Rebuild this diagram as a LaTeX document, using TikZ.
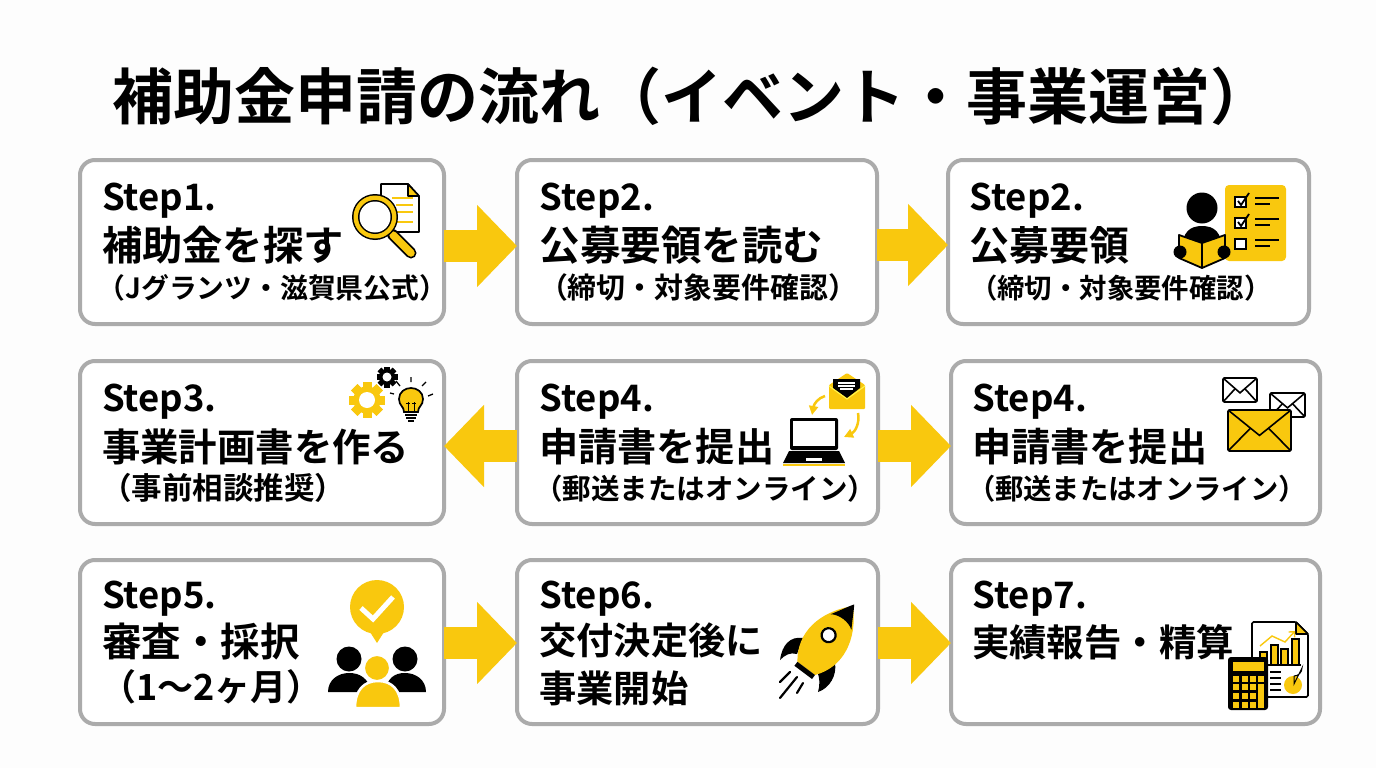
\documentclass[tikz,border=0pt]{standalone}
\usepackage{fontspec}
\setmainfont{Noto Sans CJK JP}[BoldFont={Noto Sans CJK JP Bold}]
\usetikzlibrary{arrows.meta}
\definecolor{ky}{HTML}{F9C80E}
\definecolor{bd}{HTML}{ABABAB}
\definecolor{bgc}{HTML}{FDFDFD}
\newcommand{\fs}[1]{\fontsize{#1}{#1}\selectfont\bfseries}
\newcommand{\gearicon}[4]{% x y r hole
  \foreach \a in {0,45,...,315}{\fill[#4,rotate around={\a:(#1)}] ($(#1)+(-0.25*#2,-#2)$) rectangle ($(#1)+(0.25*#2,#2)$);}
  \fill[#4] (#1) circle (0.76*#2);
  \fill[white] (#1) circle (#3);}
\usetikzlibrary{calc}
\newcommand{\envicon}[5]{% x1 y1 x2 y2 fill
  \draw[black,line width=1.6,fill=#5,rounded corners=1.5] (#1,#2) rectangle (#3,#4);
  \draw[black,line width=1.6] (#1,#2) -- ({(#1+#3)/2},{#2+0.62*(#4-#2)}) -- (#3,#2);
  \draw[black,line width=1.6] (#1,#4) -- ({#1+0.36*(#3-#1)},{#2+0.44*(#4-#2)});
  \draw[black,line width=1.6] (#3,#4) -- ({#3-0.36*(#3-#1)},{#2+0.44*(#4-#2)});}
\tikzset{
  card/.style={draw=bd,line width=4,fill=white,rounded corners=15,inner sep=0,outer sep=0},
  txt/.style={anchor=base west,inner sep=0,outer sep=0,text=black},
  flow/.style={draw=ky,line width=32,-{Triangle[length=40pt,width=80pt,fill=ky]}},
  ink/.style={black,line width=1.6,line cap=round},
}
\begin{document}
\begin{tikzpicture}[x=1pt,y=-1pt]
\useasboundingbox (0,0) rectangle (1376,768);
\fill[bgc] (0,0) rectangle (1376,768);
% title
\node[txt] (title) at (112,119) {\fs{61}補助金申請の流れ（イベント・事業運営）};
% cards
\node[card,minimum width=364,minimum height=164] (b1) at (262,242) {};
\node[card,minimum width=360,minimum height=164] (b2) at (697,242) {};
\node[card,minimum width=361,minimum height=164] (b3) at (1128.5,242) {};
\node[card,minimum width=364,minimum height=163] (b4) at (262,442.5) {};
\node[card,minimum width=361,minimum height=163] (b5) at (697.5,442.5) {};
\node[card,minimum width=369,minimum height=163] (b6) at (1135.5,442.5) {};
\node[card,minimum width=364,minimum height=164] (b7) at (262,642) {};
\node[card,minimum width=361,minimum height=164] (b8) at (697.5,642) {};
\node[card,minimum width=369,minimum height=164] (b9) at (1135.5,642) {};
% arrows
\draw[flow] ([yshift=-4pt]b1.east) -- ([yshift=-4pt]b2.west);
\draw[flow] ([yshift=-3pt]b2.east) -- ([yshift=-3pt]b3.west);
\draw[flow] ([yshift=-3.5pt]b5.west) -- ([yshift=-3.5pt]b4.east);
\draw[flow] ([yshift=-3.5pt]b5.east) -- ([yshift=-3.5pt]b6.west);
\draw[flow] ([yshift=-1pt]b7.east) -- ([yshift=-1pt]b8.west);
\draw[flow] ([yshift=-1pt]b8.east) -- ([yshift=-1pt]b9.west);
% texts row 1
\node[txt] (s1) at (102,210) {\fs{36.5}Step1.};
\node[txt] (t1) at (102,260) {\fs{40.3}補助金を探す};
\node[txt] (u1) at (97.7,298) {\fs{27.8}（Jグランツ・滋賀県公式）};
\node[txt] (s2) at (539.5,210) {\fs{36.5}Step2.};
\node[txt] (t2) at (539.5,260) {\fs{40.5}公募要領を読む};
\node[txt] (u2) at (539,298) {\fs{28.9}（締切・対象要件確認）};
\node[txt] (s3) at (969.5,210) {\fs{36.5}Step2.};
\node[txt] (t3) at (969,260) {\fs{40}公募要領};
\node[txt] (u3) at (970,298) {\fs{27.4}（締切・対象要件確認）};
% row 2
\node[txt] (s4) at (102,411) {\fs{36.5}Step3.};
\node[txt] (t4) at (102,461) {\fs{38.4}事業計画書を作る};
\node[txt] (u4) at (101,499) {\fs{30.5}（事前相談推奨）};
\node[txt] (s5) at (539.5,411) {\fs{36.5}Step4.};
\node[txt] (t5) at (539,461) {\fs{39.2}申請書を提出};
\node[txt] (u5) at (534,499) {\fs{28.5}（郵送またはオンライン）};
\node[txt] (s6) at (972.5,411) {\fs{36.5}Step4.};
\node[txt] (t6) at (972,461) {\fs{39.2}申請書を提出};
\node[txt] (u6) at (967,499) {\fs{28.3}（郵送またはオンライン）};
% row 3
\node[txt] (s7) at (102,608) {\fs{36.5}Step5.};
\node[txt] (t7) at (102,656) {\fs{39.5}審査・採択};
\node[txt] (u7) at (100.5,700) {\fs{36}（1〜2ヶ月）};
\node[txt] (s8) at (539.5,608) {\fs{36.5}Step6.};
\node[txt] (t8) at (539.5,654) {\fs{37.2}交付決定後に};
\node[txt] (u8) at (539.5,702) {\fs{37.2}事業開始};
\node[txt] (s9) at (972.5,608) {\fs{36.5}Step7.};
\node[txt] (t9) at (972,656) {\fs{37.4}実績報告・精算};
% ---- icon 1: search
\draw[ink,fill=white,line join=round] (381,205) -- (381,184) -- (408,184) -- (419,196) -- (419,232) -- (390,232);
\draw[ink,fill=ky,line join=round] (408,184) -- (419,196) -- (408,196) -- cycle;
\foreach \yy/\xa in {198/392,205/396,212/396,222/396}{\draw[ky,line width=1.5] (\xa,\yy) -- (413,\yy);}
\draw[black,line width=11,line cap=round] (392,234) -- (411,253);
\draw[ky,line width=7.5,line cap=round] (393,235) -- (411,253);
\fill[black] (375,217) circle (23);
\fill[ky] (375,217) circle (21.5);
\fill[black] (375,217) circle (17);
\fill[white] (375,217) circle (15.5);
% ---- icon 2: reader and checklist
\fill[ky,rounded corners=4] (1225,185) rectangle (1286,261);
\foreach \yy/\ch in {202/1,223/1,244/0}{
  \draw[black,line width=1.6,fill=white] (1235,\yy-5) rectangle (1246,\yy+5);
  \draw[black,line width=1.2] (1255,\yy-4) -- (1279,\yy-4);
  \draw[black,line width=1.2] (1255,\yy+2) -- (1270,\yy+2);
  \ifnum\ch=1 \draw[black,line width=1.8] (1238,\yy-1) -- (1241,\yy+3) -- (1249,\yy-9);\fi
}
\fill[black] (1202,208) circle (15.5);
\fill[black] (1182,250) .. controls (1182,232) and (1190,226) .. (1202,226) .. controls (1214,226) and (1222,232) .. (1222,250) -- cycle;
\draw[black,line width=1.8,fill=ky,line join=round] (1179,235) -- (1202,243) -- (1225,235) -- (1225,258) -- (1202,268) -- (1179,258) -- cycle;
\draw[black,line width=1.6] (1202,243) -- (1202,268);
\fill[black] (1180,252) circle (6.5);
\fill[black] (1224,252) circle (6.5);
% ---- icon 3: gears and bulb
\gearicon{367,400}{18}{8}{ky}
\gearicon{387,377}{10.5}{4.5}{black}
\draw[black,line width=1.7,fill=ky] (404,412) .. controls (404,406) and (399,406) .. (399,399) .. controls (399,392) and (405,388) .. (411,388) .. controls (417,388) and (423,392) .. (423,399) .. controls (423,406) and (418,406) .. (418,412) -- cycle;
\draw[black,line width=1] (408,412) -- (408,402) (414,412) -- (414,402) (406,403) -- (410,403) (412,403) -- (416,403);
\draw[black,line width=1.5] (405,415) -- (417,415) (406,418) -- (416,418);
\draw[black,line width=1.5] (408,421) -- (414,421);
\draw[black,line width=1.3] (400,386) -- (396,381) (411,382) -- (411,377) (422,386) -- (426,382) (428,396) -- (433,394) (394,394) -- (390,393);
% ---- icon 4: laptop and envelope
\fill[ky,rounded corners=1] (829,385) -- (847,373) -- (865,385) -- (865,409) -- (829,409) -- cycle;
\fill[black] (833,379) -- (860,379) -- (860,388) -- (847,398) -- (833,388) -- cycle;
\draw[white,line width=1.2] (838,383) -- (855,383) (838,386) -- (855,386) (840,389) -- (853,389);
\draw[yellow!70!white,line width=1] (829,386) -- (847,399) -- (865,386);
\draw[ky,line width=2.5,-{Triangle[length=9pt,width=9pt]}] (825,396) .. controls (818,398) and (814,404) .. (812,415);
\draw[ky,line width=2.5,-{Triangle[length=9pt,width=9pt]}] (858,413) .. controls (860,423) and (855,432) .. (844,437);
\fill[black,rounded corners=2] (790,418) rectangle (838,450);
\fill[white] (793,421) rectangle (835,446);
\fill[black] (789,451) -- (839,451) -- (845,463) -- (783,463) -- cycle;
\fill[white] (806,458) rectangle (822,461);
\draw[ky,line width=1.5] (783,465) -- (845,465);
% ---- icon 5: envelopes
\envicon{1223}{378}{1257}{402}{white}
\envicon{1270}{393}{1305}{417}{white}
\envicon{1228}{410}{1291}{451}{ky}
% ---- icon 6: approval
\fill[ky] (377,607) circle (27);
\fill[ky] (370,632) -- (377,643) -- (384,632) -- cycle;
\draw[white,line width=5,line cap=butt] (361,608) -- (373,619) -- (393,597);
\fill[black] (349,659) circle (12.5);
\fill[black] (405,659) circle (12.5);
\fill[black] (328,692) .. controls (328,680) and (338,673) .. (349,673) .. controls (360,673) and (368,678) .. (372,692) -- cycle;
\fill[black] (384,692) .. controls (388,678) and (394,673) .. (405,673) .. controls (416,673) and (426,680) .. (426,692) -- cycle;
\draw[white,line width=2.5,fill=ky] (355,708) .. controls (355,690) and (364,681) .. (378,681) .. controls (392,681) and (401,690) .. (401,708) -- cycle;
\draw[white,line width=2,fill=ky] (377,668) circle (13);
% ---- icon 7: rocket
\fill[black] (803,638) .. controls (790,636) and (782,645) .. (780,660) .. controls (785,655) and (790,652) .. (797,654) -- cycle;
\fill[black] (835,663) .. controls (837,675) and (830,688) .. (818,692) .. controls (820,685) and (820,678) .. (817,671) -- cycle;
\begin{scope}[shift={(805,670)},x={(0.8pt,-0.6pt)},y={(0.6pt,0.8pt)}]
  \fill[ky] (-11,2) .. controls (-29,25) and (-24,55) .. (0,80) .. controls (24,55) and (29,25) .. (11,2) -- cycle;
  \fill[black] (-13,60) .. controls (-8,68) and (-4,76) .. (0,82) .. controls (4,76) and (8,68) .. (13,60) .. controls (6,65) and (-6,65) .. (-13,60) -- cycle;
  \fill[black] (-11,-3) -- (11,-3) -- (11,2) -- (-11,2) -- cycle;
  \draw[black,line width=2.2,fill=white] (-2,42) circle (7);
\end{scope}
\draw[black,line width=2.2,line cap=round] (780,682) -- (790,672) (780,698) -- (797,677) (797,693) -- (803,683);
% ---- icon 8: report and calculator
\draw[ink,fill=white,rounded corners=1.5] (1252,622) -- (1296,622) -- (1308,634) -- (1308,697) -- (1252,697) -- cycle;
\draw[ink,fill=ky,line join=round] (1296,622) -- (1308,634) -- (1296,634) -- cycle;
\draw[ky,line width=1.4,-{Straight Barb[length=4pt]}] (1260,646) -- (1272,636) -- (1285,642) -- (1295,631);
\foreach \xa/\xb/\yy in {1260/1267/652,1271/1278/645,1281/1288/649,1292/1299/639}{
  \draw[black,line width=1.2,fill=ky] (\xa,664) -- (\xa,\yy) -- (\xb,\yy) -- (\xb,664);}
\draw[black,line width=1.3] (1262,665) -- (1301,665);
\foreach \yy in {672,678,684,690}{\draw[black,line width=1.1] (1270,\yy) -- (1281,\yy);}
\fill[ky] (1293,685) circle (9);
\draw[black,line width=1,fill=ky] (1294,684) -- (1294,676) arc[start angle=90,end angle=0,radius=8] -- cycle;
\fill[black,rounded corners=3] (1228,657) rectangle (1268,710);
\fill[ky] (1233,662) rectangle (1264,671);
\foreach \yy in {676,684,693,702}{\foreach \xx in {1233,1242,1250}{\fill[ky] (\xx,\yy) rectangle ++(6,6);}}
\fill[ky] (1258,676) rectangle ++(6,6);
\fill[ky] (1258,684) rectangle (1264,708);
\end{tikzpicture}
\end{document}
